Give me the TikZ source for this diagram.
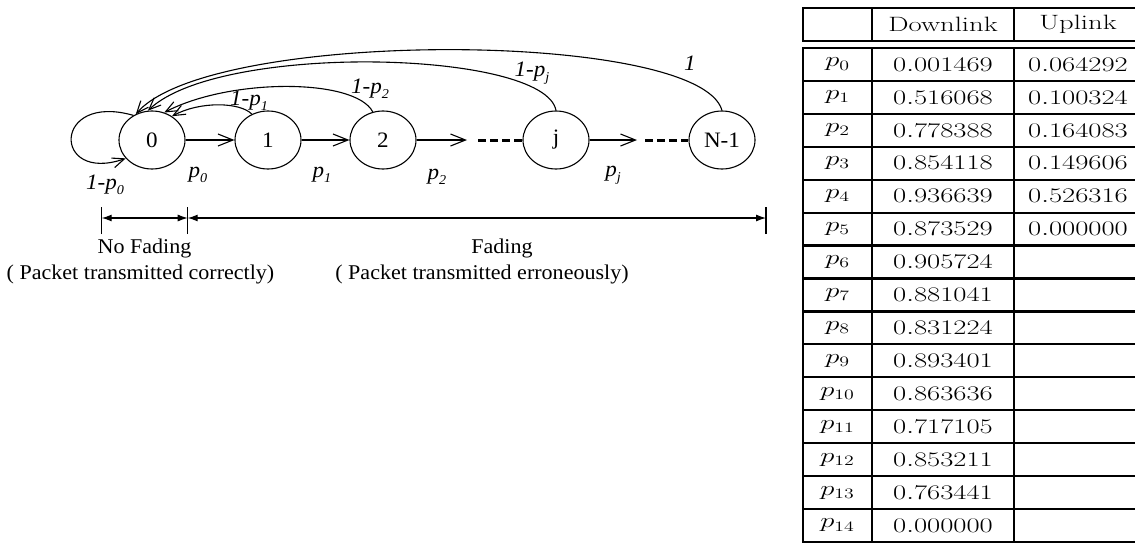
\documentclass[tikz,border=0pt]{standalone}
\usepackage{fontspec}
\usepackage{graphicx}
\usetikzlibrary{arrows.meta,shapes.geometric}
\newfontfamily\tms{Liberation Serif}
\newcommand\dtx[1]{\scalebox{1.05}[1]{#1}}
\newcommand\ttx[1]{\scalebox{1.38}[1]{#1}}
\newcommand\sbs[1]{\raisebox{-0.45ex}{\fontsize{13.5}{14}\selectfont #1}}
\tikzset{
  state/.style={draw,ellipse,line width=1.1pt,minimum width=66pt,minimum height=58pt,inner sep=0pt,
    font=\tms\fontsize{22}{26}\selectfont},
  lab/.style={inner sep=0pt,font=\tms\fontsize{22}{26}\selectfont\itshape},
  captxt/.style={inner sep=0pt,font=\tms\fontsize{21}{25}\selectfont},
  conn/.style={line width=1.1pt},
  barb/.style={conn,-{Straight Barb[length=15pt,width=12pt,line width=1.1pt]}},
  sbarb/.style={conn,-{Straight Barb[length=12pt,width=10pt,line width=1.1pt]}},
  dots/.style={line width=3pt,dash pattern=on 8pt off 4pt},
  dimarr/.style={line width=1.1pt,{Latex[length=10pt,width=7pt]}-{Latex[length=10pt,width=7pt]}},
  ticksty/.style={line width=1.1pt},
  tline/.style={line width=2.2pt},
  tcell/.style={inner sep=0pt,font=\fontsize{20.74}{25}\selectfont}
}
\begin{document}
\begin{tikzpicture}[x=1pt,y=-1pt]
\useasboundingbox (0,0) rectangle (1135,544);
\clip (0,0) rectangle (1135,544);
% states
\node[state] (n0) at (152,140) {\dtx{0}};
\node[state] (n1) at (268,140) {\dtx{1}};
\node[state] (n2) at (383,140) {\dtx{2}};
\node[state] (nj) at (556,140) {\dtx{j}};
\node[state] (nN) at (722,140) {\dtx{N-1}};
\coordinate (a2) at (467,140);
\coordinate (d2) at (478,140);
\coordinate (aj) at (637,140);
\coordinate (dj) at (645,140);
% forward arrows
\draw[barb] (n0.east) -- (n1.west);
\draw[barb] (n1.east) -- (n2.west);
\draw[barb] (n2.east) -- (a2);
\draw[dots] (d2) -- (nj.west);
\draw[barb] (nj.east) -- (aj);
\draw[dots] (dj) -- (nN.west);
% self loop
\draw[sbarb] (n0.127) .. controls (52,92) and (52,184) .. (n0.215);
% return arcs
\draw[sbarb] (nN.north) .. controls (700,30) and (210,28) .. (n0.122);
\draw[sbarb] (nj.north) .. controls (545,50) and (220,42) .. (n0.98);
\draw[sbarb] (n2.110) .. controls (355,78) and (230,78) .. (n0.66);
\draw[sbarb] (n1.122) .. controls (240,102) and (200,101) .. (n0.50);
% labels
\node[lab] (l0) at (105,185) {\dtx{1-p\sbs{0}}};
\node[lab] (q0) at (198,175) {\dtx{p\sbs{0}}};
\node[lab] (q1) at (322,175) {\dtx{p\sbs{1}}};
\node[lab] (q2) at (437,177) {\dtx{p\sbs{2}}};
\node[lab] (qj) at (613,175) {\dtx{p\sbs{j}}};
\node[lab] (r1) at (249,101) {\dtx{1-p\sbs{1}}};
\node[lab] (r2) at (370,89) {\dtx{1-p\sbs{2}}};
\node[lab] (rj) at (532,73) {\dtx{1-p\sbs{j}}};
\node[lab] (rN) at (690,63) {\dtx{1}};
% dimension lines
\coordinate (t0) at (101.7,218);
\coordinate (t1) at (187.7,218);
\coordinate (t2) at (766,218);
\foreach \t in {t0,t1,t2} \draw[ticksty] ([yshift=-16pt]\t) -- ([yshift=11pt]\t);
\draw[dimarr] (t0) -- (t1);
\draw[dimarr] (t1) -- (t2);
\node[captxt] (c1) at (144.5,248) {\dtx{No Fading}};
\node[captxt] (c2) at (140.5,274) {\dtx{( Packet transmitted correctly)}};
\node[captxt] (c3) at (502,248) {\dtx{Fading}};
\node[captxt] (c4) at (482,274) {\dtx{( Packet transmitted erroneously)}};
% table
\draw[tline] (803,8) rectangle (1142,41);
\draw[tline] (872,8) -- (872,41);
\draw[tline] (1014,8) -- (1014,41);
\node[tcell] (hd) at (943,24.5) {\ttx{Downlink}};
\node[tcell] (hu) at (1078,24.5) {\ttx{Uplink}};
\draw[tline] (803,48) rectangle (1142,542);
\draw[tline] (872,48) -- (872,542);
\draw[tline] (1014,48) -- (1014,542);
\foreach \i in {1,...,14} \draw[tline] (803,{48+\i*32.93}) -- (1142,{48+\i*32.93});
\foreach \i/\d in {0/0.001469,1/0.516068,2/0.778388,3/0.854118,4/0.936639,5/0.873529,6/0.905724,7/0.881041,8/0.831224,9/0.893401,10/0.863636,11/0.717105,12/0.853211,13/0.763441,14/0.000000}{
  \node[tcell] (p\i) at (837.5,{48+(\i+0.5)*32.93}) {\ttx{$p_{\i}$}};
  \node[tcell] (d\i) at (943,{48+(\i+0.5)*32.93}) {\ttx{$\d$}};
}
\foreach \i/\u in {0/0.064292,1/0.100324,2/0.164083,3/0.149606,4/0.526316,5/0.000000}{
  \node[tcell] (u\i) at (1078,{48+(\i+0.5)*32.93}) {\ttx{$\u$}};
}
\end{tikzpicture}
\end{document}
